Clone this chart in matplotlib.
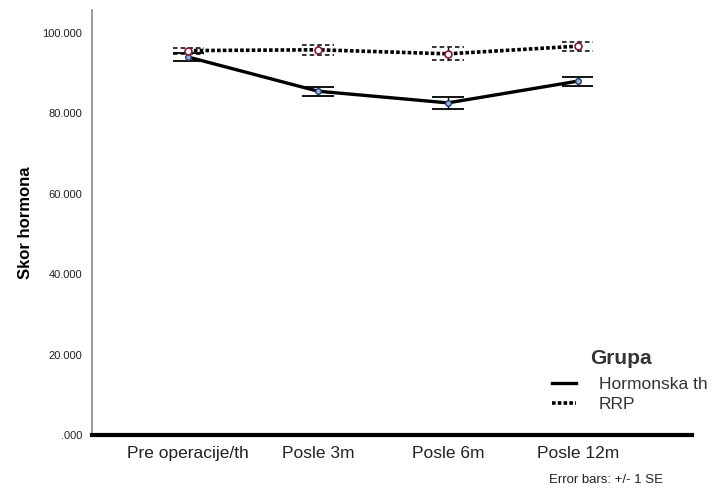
import matplotlib
matplotlib.use("Agg")
import matplotlib.pyplot as plt
from matplotlib.lines import Line2D
import numpy as np

plt.rcParams['font.family'] = ['Liberation Sans', 'DejaVu Sans']

# categories and group means / standard errors
periods = ['Pre operacije/th', 'Posle 3m', 'Posle 6m', 'Posle 12m']
hormon_mean = [94.0, 85.5, 82.6, 88.0]
hormon_se = [0.9, 1.1, 1.5, 1.15]
rrp_mean = [95.6, 95.8, 94.8, 96.7]
rrp_se = [0.75, 1.2, 1.6, 1.1]
y_ticks = [0, 20, 40, 60, 80, 100]
y_tick_labels = ['.000', '20.000', '40.000', '60.000', '80.000', '100.000']

x = np.arange(len(periods))
cap_w = 0.12

fig = plt.figure(figsize=(7.15, 4.92), dpi=100)
ax = fig.add_axes([0.1287, 0.1159, 0.8393, 0.8638])

# Hormonska th - solid line, solid error bars
ax.plot(x, hormon_mean, color='black', lw=2.4, solid_capstyle='butt', zorder=3)
ax.errorbar(x, hormon_mean, yerr=hormon_se, fmt='none', ecolor='black',
            elinewidth=1.0, capsize=0, zorder=4)
for xi, m, s in zip(x, hormon_mean, hormon_se):
    ax.hlines([m - s, m + s], xi - cap_w, xi + cap_w, colors='black', lw=1.3, zorder=4)
ax.plot(x, hormon_mean, 'o', ms=4, mfc='#9bb3d6', mec='#1f3b73', mew=1.0, zorder=5)

# RRP - dotted line, dashed error bars
ax.plot(x, rrp_mean, color='black', lw=2.6, ls=(0, (1, 0.6)), zorder=3)
ax.errorbar(x, rrp_mean, yerr=rrp_se, fmt='none', ecolor='black',
            elinewidth=1.0, capsize=0, ls='--', zorder=4)
for xi, m, s in zip(x, rrp_mean, rrp_se):
    ax.hlines([m - s, m + s], xi - cap_w, xi + cap_w, colors='black', lw=1.1,
              linestyles=(0, (3, 2)), zorder=4)
ax.plot(x, rrp_mean, 'o', ms=5, mfc='white', mec='#8b1a3a', mew=1.2, zorder=5)

ax.set_xlim(-0.74, 3.88)
ax.set_ylim(0, 105.7)
ax.set_xticks(x)
ax.set_xticklabels(periods, fontsize=12.5, color='#222222')
ax.set_yticks(y_ticks)
ax.set_yticklabels(y_tick_labels, fontsize=8, color='#222222')
ax.tick_params(axis='both', length=0)
ax.tick_params(axis='x', pad=8)
ax.tick_params(axis='y', pad=7)

for side in ['top', 'right']:
    ax.spines[side].set_visible(False)
ax.spines['left'].set_color('#888888')
ax.spines['left'].set_linewidth(1.2)
ax.spines['bottom'].set_color('black')
ax.spines['bottom'].set_linewidth(3)

ax.set_ylabel('Skor hormona', fontsize=12, fontweight='bold', labelpad=7)

# legend
fig.text(621 / 715, 1 - 358 / 492, 'Grupa', ha='center', va='center',
         fontsize=15, fontweight='bold', color='#333333')
handles = [Line2D([], [], color='black', lw=2.4),
           Line2D([], [], color='black', lw=2.6, ls=(0, (1, 0.6)))]
leg = fig.legend(handles, ['Hormonska th', 'RRP'],
                 loc='upper left', bbox_to_anchor=(552 / 715, 1 - 377 / 492),
                 frameon=False, fontsize=12.5, handlelength=1.4, handletextpad=1.3,
                 labelspacing=0.25, borderpad=0, borderaxespad=0)
for t in leg.get_texts():
    t.set_color('#333333')

fig.text(549 / 715, 1 - 480 / 492, 'Error bars: +/- 1 SE', ha='left', va='center',
         fontsize=9.5, color='#222222')

fig.savefig('out.png', dpi=100)
